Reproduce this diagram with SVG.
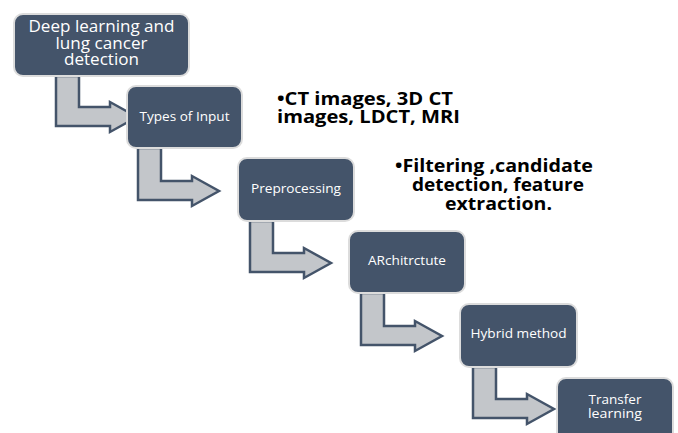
<svg xmlns="http://www.w3.org/2000/svg" width="678" height="433" viewBox="0 0 678 433">
<style>
.box{fill:#44546A;stroke:#DCDCDC;stroke-width:2}
.arr{fill:#C3C6CA;stroke:#44546A;stroke-width:2.5;stroke-linejoin:miter}
.lbl{font-family:"Open Sans","Liberation Sans",sans-serif;fill:#FFFFFF;text-anchor:middle}
.sm{font-size:12.5px}
.big{font-size:15.5px}
.note{font-family:"Open Sans","Liberation Sans",sans-serif;font-weight:bold;fill:#000000;font-size:18px}
</style>
<rect width="678" height="433" fill="#FFFFFF"/>
<g id="connectors">
<path class="arr" d="M56,76 H79 V107 H110 V102 L137,117 L110,132 V126 H56 Z"/>
<path class="arr" d="M138,148 H161 V181 H192 V176 L219,191 L192,206 V200 H138 Z"/>
<path class="arr" d="M250,221 H273 V253 H304 V248 L331,263 L304,278 V272 H250 Z"/>
<path class="arr" d="M361,293 H384 V326 H415 V321 L442,336 L415,351 V345 H361 Z"/>
<path class="arr" d="M473,367 H496 V399 H527 V394 L554,409 L527,424 V418 H473 Z"/>
</g>
<g id="node1">
<rect class="box" x="14" y="14" width="175" height="62" rx="9"/>
<text class="lbl big" x="101.5" y="32" textLength="146" lengthAdjust="spacingAndGlyphs">Deep learning and</text>
<text class="lbl big" x="101.5" y="48.5" textLength="92" lengthAdjust="spacingAndGlyphs">lung cancer</text>
<text class="lbl big" x="101.5" y="65" textLength="75" lengthAdjust="spacingAndGlyphs">detection</text>
</g>
<g id="node2">
<rect class="box" x="127" y="86" width="115" height="62" rx="9"/>
<text class="lbl sm" x="184.5" y="121" textLength="90" lengthAdjust="spacingAndGlyphs">Types of Input</text>
</g>
<g id="node3">
<rect class="box" x="238" y="158" width="116" height="63" rx="9"/>
<text class="lbl sm" x="296" y="193" textLength="90" lengthAdjust="spacingAndGlyphs">Preprocessing</text>
</g>
<g id="node4">
<rect class="box" x="349" y="231" width="116" height="62" rx="9"/>
<text class="lbl sm" x="407" y="265" textLength="78" lengthAdjust="spacingAndGlyphs">ARchitrctute</text>
</g>
<g id="node5">
<rect class="box" x="460" y="304" width="117" height="63" rx="9"/>
<text class="lbl sm" x="518.5" y="338" textLength="96" lengthAdjust="spacingAndGlyphs">Hybrid method</text>
</g>
<g id="node6">
<rect class="box" x="557" y="378" width="116" height="70" rx="9"/>
<text class="lbl sm" x="615" y="404" textLength="53" lengthAdjust="spacingAndGlyphs">Transfer</text>
<text class="lbl sm" x="615" y="418" textLength="54" lengthAdjust="spacingAndGlyphs">learning</text>
</g>
<g id="notes">
<text class="note" x="277" y="105" textLength="176" lengthAdjust="spacingAndGlyphs">•CT images, 3D CT</text>
<text class="note" x="277" y="123" textLength="183" lengthAdjust="spacingAndGlyphs">images, LDCT, MRI</text>
<text class="note" x="494" y="172" text-anchor="middle" textLength="198" lengthAdjust="spacingAndGlyphs">•Filtering ,candidate</text>
<text class="note" x="498" y="191" text-anchor="middle" textLength="172" lengthAdjust="spacingAndGlyphs">detection, feature</text>
<text class="note" x="498.5" y="210" text-anchor="middle" textLength="107" lengthAdjust="spacingAndGlyphs">extraction.</text>
</g>
</svg>
